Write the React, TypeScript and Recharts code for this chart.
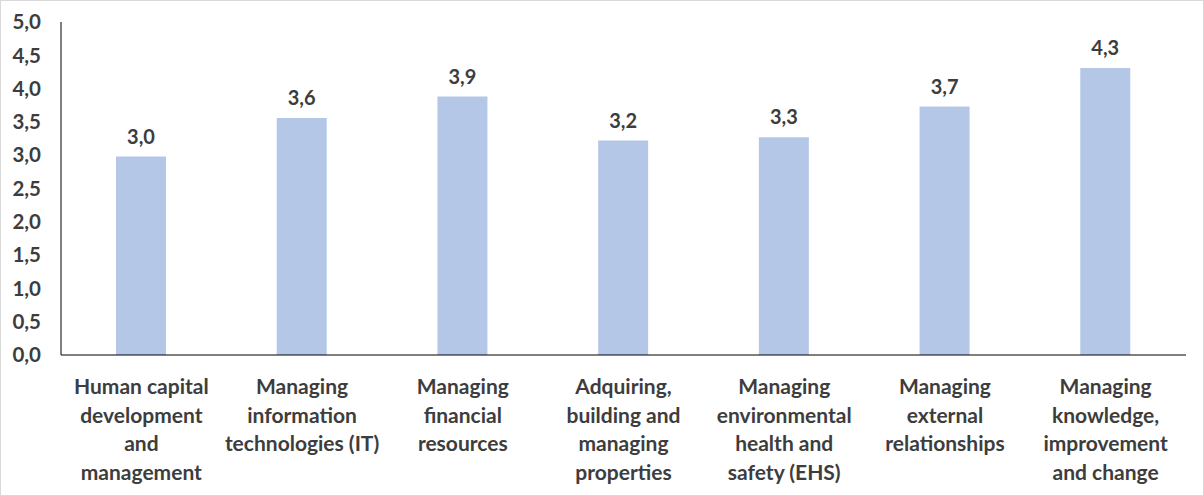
import React from "react";
import { BarChart, Bar, XAxis, YAxis, LabelList } from "recharts";

const categories = [
  "Human capital development and management",
  "Managing information technologies (IT)",
  "Managing financial resources",
  "Adquiring, building and managing properties",
  "Managing environmental health and safety (EHS)",
  "Managing external relationships",
  "Managing knowledge, improvement and change",
];

// how each category label breaks onto lines under the axis
const categoryLines = [
  ["Human capital", "development", "and", "management"],
  ["Managing", "information", "technologies (IT)"],
  ["Managing", "financial", "resources"],
  ["Adquiring,", "building and", "managing", "properties"],
  ["Managing", "environmental", "health and", "safety (EHS)"],
  ["Managing", "external", "relationships"],
  ["Managing", "knowledge,", "improvement", "and change"],
];

const scores = [2.98, 3.56, 3.88, 3.22, 3.27, 3.73, 4.31];

const yTicks = [0, 0.5, 1, 1.5, 2, 2.5, 3, 3.5, 4, 4.5, 5];

const data = categories.map((name, i) => ({ name, idx: i, score: scores[i] }));

const TEXT = "#3d3d3d";
const FONT = "Lato, 'Noto Sans', sans-serif";

const fmt = (v: number) => v.toFixed(1).replace(".", ",");

function CategoryTick(props: any) {
  const { x, y, payload } = props;
  const lines = categoryLines[payload.index] ?? [payload.value];
  return (
    <text
      x={x}
      y={y}
      textAnchor="middle"
      fill={TEXT}
      fontFamily={FONT}
      fontWeight={700}
      fontSize={21}
    >
      {lines.map((line: string, i: number) => (
        <tspan key={i} x={x} dy={i === 0 ? 31 : 28.5}>
          {line}
        </tspan>
      ))}
    </text>
  );
}

export default function App() {
  return (
    <div style={{ position: "relative", width: 1204, height: 496, background: "#fff" }}>
      <style>{`body{margin:0}`}</style>
      <BarChart
        width={1204}
        height={496}
        data={data}
        margin={{ top: 22, right: 18, left: 0, bottom: 0 }}
        barCategoryGap={0}
      >
        <XAxis
          dataKey="name"
          height={141}
          axisLine={{ stroke: "#000", strokeWidth: 1 }}
          tickLine={false}
          tick={<CategoryTick />}
          interval={0}
        />
        <YAxis
          width={61}
          domain={[0, 5]}
          ticks={yTicks}
          axisLine={{ stroke: "#000", strokeWidth: 1 }}
          tickLine={false}
          tickSize={0}
          tickMargin={20}
          tickFormatter={fmt}
          tick={{ fill: TEXT, fontFamily: FONT, fontWeight: 700, fontSize: 20.5 }}
        />
        <Bar dataKey="score" fill="#B4C7E7" barSize={50} isAnimationActive={false}>
          <LabelList
            dataKey="score"
            position="top"
            offset={13}
            formatter={(v: any) => fmt(Number(v))}
            fill={TEXT}
            fontFamily={FONT}
            fontWeight={700}
            fontSize={20}
          />
        </Bar>
      </BarChart>
      <div
        style={{
          position: "absolute",
          inset: 0,
          border: "1px solid #d9d9d9",
          pointerEvents: "none",
        }}
      />
    </div>
  );
}
